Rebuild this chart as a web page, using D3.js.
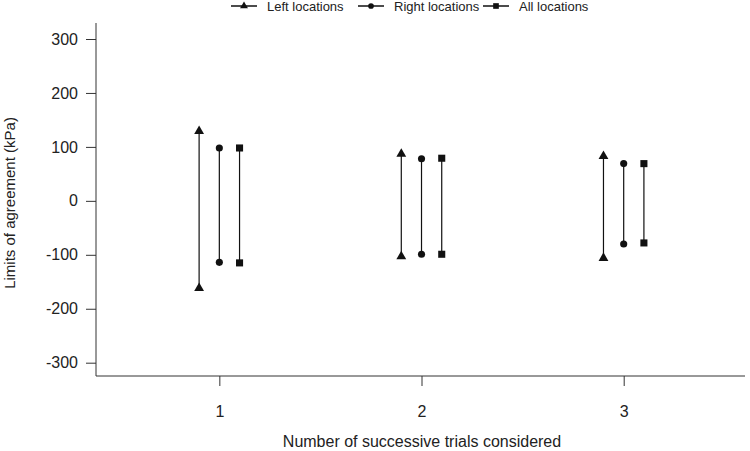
<!DOCTYPE html>
<html>
<head>
<meta charset="utf-8">
<script src="https://cdn.jsdelivr.net/npm/d3@7"></script>
<style>
body { margin: 0; background: #fff; }
svg { display: block; font-family: "Liberation Sans", Arial, sans-serif; }
</style>
</head>
<body>
<svg id="chart" width="750" height="451"></svg>
<script>
// trials considered (x categories)
var trials = [1, 2, 3];
var seriesNames = ["Left locations", "Right locations", "All locations"];
var seriesShapes = ["triangle", "circle", "square"];
var seriesOffset = [-0.1, 0, 0.1];
// upper and lower limits of agreement, per series, per trial
var upperLimits = [
    [129, 87, 83],
    [98, 78, 69],
    [98, 79, 69]
];
var lowerLimits = [
    [-162, -103, -106],
    [-114, -99, -80],
    [-115, -99, -78]
];
var yTicks = [-300, -200, -100, 0, 100, 200, 300];

var svg = d3.select("#chart");

var x = d3.scaleLinear().domain([0.39, 3.6]).range([96, 745]);
var y = d3.scaleLinear().domain([-300, 300]).range([362.7, 39]);

var symbolFor = {
    triangle: d3.symbol().type(d3.symbolTriangle).size(42),
    circle: d3.symbol().type(d3.symbolCircle).size(40),
    square: d3.symbol().type(d3.symbolSquare).size(50)
};

// axes
var yAxis = svg.append("g")
    .attr("transform", "translate(96,0)")
    .call(d3.axisLeft(y).tickValues(yTicks).tickFormat(function(d) { return String(d); })
        .tickSize(10).tickPadding(8));
yAxis.select(".domain").attr("d", "M0,23V376");

var xAxis = svg.append("g")
    .attr("transform", "translate(0,376)")
    .call(d3.axisBottom(x).tickValues(trials).tickFormat(function(d) { return String(d); })
        .tickSize(10).tickPadding(20));
xAxis.select(".domain").attr("d", "M96,0H745");

svg.selectAll(".tick text").attr("font-size", 16).attr("fill", "#222")
    .attr("font-family", "Liberation Sans, Arial, sans-serif");
svg.selectAll(".domain, .tick line").attr("stroke", "#333");

// titles
svg.append("text")
    .attr("x", 422).attr("y", 447)
    .attr("text-anchor", "middle").attr("font-size", 16).attr("fill", "#222")
    .text("Number of successive trials considered");

svg.append("text")
    .attr("transform", "translate(15,203) rotate(-90)")
    .attr("text-anchor", "middle").attr("font-size", 15).attr("fill", "#222")
    .text("Limits of agreement (kPa)");

// series
seriesNames.forEach(function(name, s) {
    var g = svg.append("g");
    var rows = trials.map(function(t, i) {
        return { t: t, hi: upperLimits[s][i], lo: lowerLimits[s][i] };
    });
    g.selectAll("line").data(rows).enter().append("line")
        .attr("x1", function(d) { return x(d.t + seriesOffset[s]); })
        .attr("x2", function(d) { return x(d.t + seriesOffset[s]); })
        .attr("y1", function(d) { return y(d.hi); })
        .attr("y2", function(d) { return y(d.lo); })
        .attr("stroke", "#111").attr("stroke-width", 1.2);
    var pts = [];
    rows.forEach(function(d) { pts.push([d.t, d.hi]); pts.push([d.t, d.lo]); });
    g.selectAll("path").data(pts).enter().append("path")
        .attr("d", symbolFor[seriesShapes[s]])
        .attr("transform", function(d) {
            return "translate(" + x(d[0] + seriesOffset[s]) + "," + y(d[1]) + ")";
        })
        .attr("fill", "#111");
});

// legend
var legendX = [231, 358, 483];
var legend = svg.append("g");
seriesNames.forEach(function(name, s) {
    var lg = legend.append("g").attr("transform", "translate(" + legendX[s] + ",6)");
    lg.append("line").attr("x1", 0).attr("x2", 26).attr("y1", 0).attr("y2", 0)
        .attr("stroke", "#111").attr("stroke-width", 1.5);
    lg.append("path").attr("d", symbolFor[seriesShapes[s]])
        .attr("transform", "translate(13,0) scale(0.8)").attr("fill", "#111");
    lg.append("text").attr("x", 36).attr("y", 5).attr("font-size", 13).attr("fill", "#222")
        .text(name);
});
</script>
</body>
</html>
